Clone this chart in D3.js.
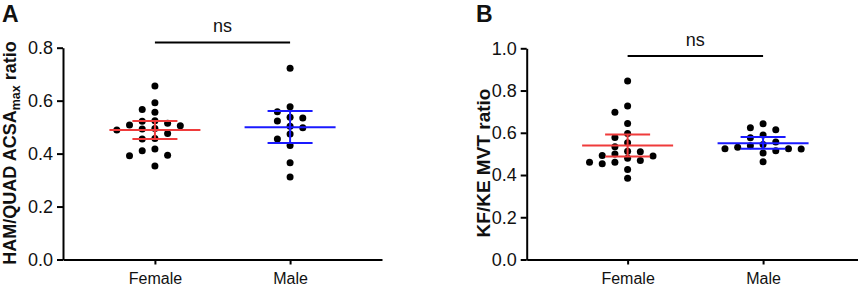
<!DOCTYPE html>
<html>
<head>
<meta charset="utf-8">
<script src="https://cdn.jsdelivr.net/npm/d3@7"></script>
<style>
  html, body { margin: 0; padding: 0; background: #fff; }
  svg { display: block; font-family: "Liberation Sans", Arial, sans-serif; }
  .axis .domain, .axis .tick line { stroke: #000; stroke-width: 2px; }
  .axis .tick text { fill: #111; font-family: "Liberation Sans", Arial, sans-serif; }
</style>
</head>
<body>
<script>
// ---------- data ----------
const categories = ["Female", "Male"];

// Panel A: HAM/QUAD ACSAmax ratio
const hamFemale = [0.655, 0.592, 0.567, 0.556, 0.524, 0.522, 0.515, 0.508, 0.505, 0.495,
                   0.493, 0.489, 0.476, 0.457, 0.455, 0.417, 0.411, 0.394, 0.392, 0.353];
const hamMale   = [0.722, 0.577, 0.558, 0.537, 0.534, 0.523, 0.503, 0.498, 0.474, 0.455,
                   0.431, 0.365, 0.312];
const hamMean   = [0.489, 0.500];
const hamLower  = [0.455, 0.440];
const hamUpper  = [0.523, 0.561];
const hamTicks  = [0, 0.2, 0.4, 0.6, 0.8];

// Panel B: KF/KE MVT ratio
const kfFemale = [0.845, 0.727, 0.697, 0.644, 0.597, 0.578, 0.553, 0.534, 0.513, 0.510,
                  0.499, 0.493, 0.490, 0.479, 0.469, 0.461, 0.461, 0.453, 0.426, 0.385];
const kfMale   = [0.643, 0.624, 0.614, 0.589, 0.576, 0.556, 0.545, 0.538, 0.532, 0.524,
                  0.524, 0.523, 0.515, 0.504, 0.463];
const kfMean   = [0.540, 0.551];
const kfLower  = [0.488, 0.524];
const kfUpper  = [0.592, 0.580];
const kfTicks  = [0, 0.2, 0.4, 0.6, 0.8, 1.0];

const sigLabel = "ns";
const groupColors = ["#ef3b3b", "#1a1aff"];

// ---------- drawing ----------
const W = 858, H = 287;
const svg = d3.select("body").append("svg").attr("width", W).attr("height", H);

// simple swarm: place each dot in the nearest free column slot
function swarm(values, y, spacing, minDist) {
  const order = values.map((v, i) => i).sort((a, b) => values[b] - values[a]);
  const placed = [];
  const slots = new Array(values.length).fill(0);
  const cand = [0, -1, 1, -2, 2, -3, 3, -4, 4, -5, 5];
  order.forEach(i => {
    const py = y(values[i]);
    for (const c of cand) {
      const ok = placed.every(p => !(p.c === c && Math.abs(p.y - py) < minDist));
      if (ok) { placed.push({c, y: py}); slots[i] = c; break; }
    }
  });
  return slots.map(c => c * spacing);
}

function drawPanel(o) {
  const g = svg.append("g");
  const y = d3.scaleLinear().domain([0, o.max]).range([o.bottom, o.top]);
  const x = d3.scalePoint().domain(categories).range([o.left, o.right]).padding(o.pad);

  // axes
  g.append("g").attr("class", "axis")
    .attr("transform", `translate(${o.left},0)`)
    .call(d3.axisLeft(y).tickValues(o.ticks).tickSize(6).tickSizeOuter(0)
      .tickPadding(4).tickFormat(d3.format(".1f")))
    .call(a => a.selectAll(".tick text").attr("font-size", 18));
  g.append("g").attr("class", "axis")
    .attr("transform", `translate(0,${o.bottom})`)
    .call(d3.axisBottom(x).tickSize(5).tickSizeOuter(0).tickPadding(8))
    .call(a => a.selectAll(".tick text").attr("font-size", 16));

  // points
  o.groups.forEach((vals, gi) => {
    const offs = swarm(vals, y, 12.7, 7);
    g.append("g").selectAll("circle").data(vals).join("circle")
      .attr("cx", (d, i) => x(categories[gi]) + offs[i])
      .attr("cy", d => y(d))
      .attr("r", 3.5)
      .attr("fill", "#000");
  });

  // mean with error bars
  categories.forEach((c, gi) => {
    const cx = x(c), col = groupColors[gi];
    const eg = g.append("g").attr("stroke", col).attr("stroke-width", 2).attr("fill", "none");
    eg.append("line").attr("x1", cx).attr("x2", cx)
      .attr("y1", y(o.lower[gi])).attr("y2", y(o.upper[gi]));
    eg.append("line").attr("x1", cx - 45.5).attr("x2", cx + 45.5)
      .attr("y1", y(o.mean[gi])).attr("y2", y(o.mean[gi]));
    [o.lower[gi], o.upper[gi]].forEach(v => {
      eg.append("line").attr("x1", cx - 22.5).attr("x2", cx + 22.5)
        .attr("y1", y(v)).attr("y2", y(v));
    });
  });

  // significance bracket
  const sy = y(o.sigLevel);
  g.append("line").attr("x1", x(categories[0])).attr("x2", x(categories[1]))
    .attr("y1", sy).attr("y2", sy).attr("stroke", "#000").attr("stroke-width", 2);
  g.append("text").attr("x", (x(categories[0]) + x(categories[1])) / 2).attr("y", sy - 10.5)
    .attr("text-anchor", "middle").attr("font-size", 18).attr("fill", "#111").text(sigLabel);

  // y title
  const t = g.append("text")
    .attr("transform", `translate(${o.titleX},${o.titleY}) rotate(-90)`)
    .attr("text-anchor", "middle").attr("font-size", o.titleSize).attr("font-weight", "bold")
    .attr("fill", "#111");
  o.title(t);

  // panel letter
  g.append("text").attr("x", o.letterX).attr("y", 21.5).attr("font-size", 23)
    .attr("font-weight", "bold").attr("fill", "#111").text(o.letter);
}

drawPanel({
  left: 63, right: 382, pad: 0.68, top: 47.7, bottom: 259.5, max: 0.8,
  ticks: hamTicks, groups: [hamFemale, hamMale],
  mean: hamMean, lower: hamLower, upper: hamUpper, sigLevel: 0.82,
  titleX: 16, titleY: 153, titleSize: 18,
  title: t => {
    t.append("tspan").text("HAM/QUAD ACSA");
    t.append("tspan").attr("font-size", 12.5).attr("dy", 4).text("max");
    t.append("tspan").attr("dy", -4).text(" ratio");
  },
  letter: "A", letterX: 2
});

drawPanel({
  left: 526.7, right: 864, pad: 0.745, top: 48.3, bottom: 259.5, max: 1.0,
  ticks: kfTicks, groups: [kfFemale, kfMale],
  mean: kfMean, lower: kfLower, upper: kfUpper, sigLevel: 0.963,
  titleX: 490, titleY: 163, titleSize: 19,
  title: t => t.text("KF/KE MVT ratio"),
  letter: "B", letterX: 476
});
</script>
</body>
</html>
